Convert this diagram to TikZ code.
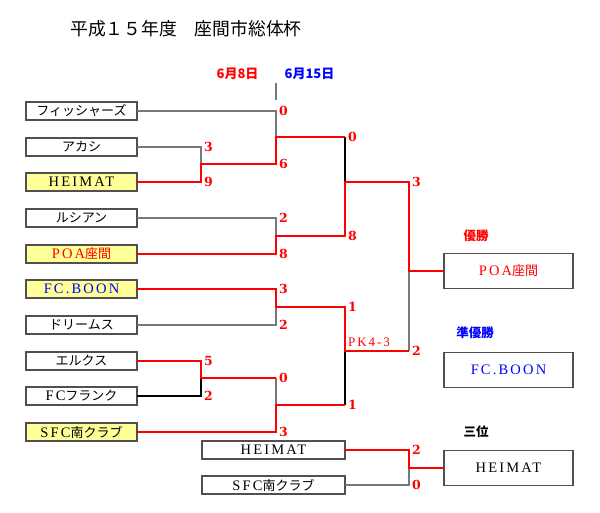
\documentclass[tikz,border=0pt]{standalone}
\usepackage{fontspec}
\setmainfont{Liberation Serif}
\newfontfamily\jp{Noto Sans CJK JP}
\newfontfamily\lat[LetterSpace=15]{Liberation Serif}
\newfontfamily\scf{DejaVu Serif}
\definecolor{rd}{RGB}{255,0,0}
\definecolor{bl}{RGB}{0,0,255}
\definecolor{yl}{RGB}{255,255,153}
\definecolor{gr}{RGB}{120,120,120}
\definecolor{bd}{RGB}{80,80,80}
\newcommand\lt[1]{{\lat\fontsize{14.5}{15}\selectfont #1}}
\tikzset{
  team/.style={draw=bd,line width=1.4pt,fill=white,minimum width=111pt,minimum height=18pt,inner sep=0pt,outer sep=0pt,font=\fontsize{13}{14}\selectfont},
  teamw/.style={team,minimum width=143pt},
  final/.style={team,minimum width=129pt,minimum height=35pt},
  hl/.style={fill=yl},
  win/.style={draw=rd,line width=2pt},
  lose/.style={draw=gr,line width=1.4pt},
  loseb/.style={draw=black,line width=1.2pt},
  score/.style={anchor=west,inner sep=0pt,text=rd,font=\scf\bfseries\fontsize{12.5}{13}\selectfont},
  lbl/.style={inner sep=0pt,font=\jp\bfseries\fontsize{12.5}{14}\selectfont},
}
\begin{document}
\begin{tikzpicture}[x=1pt,y=-1pt]
\useasboundingbox[fill=white] (0,0) rectangle (600,513);
% title and dates
\node[anchor=west,inner sep=0pt] (title) at (70,29) {\jp\fontsize{17.8}{20}\selectfont 平成１５年度　座間市総体杯};
\node[lbl,text=rd,font=\jp\bfseries\fontsize{13}{14}\selectfont] (d1) at (237.5,74) {6月8日};
\node[lbl,text=bl,font=\jp\bfseries\fontsize{13}{14}\selectfont] (d2) at (309.5,74) {6月15日};
\coordinate (tk1) at (276,83);
\coordinate (tk2) at (276,100);
\draw[lose] (tk1) -- (tk2);
% teams
\node[team] (t1) at (81.5,111) {\jp フィッシャーズ};
\node[team] (t2) at (81.5,147) {\jp アカシ};
\node[team,hl] (t3) at (81.5,182) {\lt{HEIMAT}};
\node[team] (t4) at (81.5,218) {\jp ルシアン};
\node[team,hl,text=rd] (t5) at (81.5,254) {\lt{POA}{\jp 座間}};
\node[team,hl,text=bl] (t6) at (81.5,289) {\lt{FC.BOON}};
\node[team] (t7) at (81.5,325) {\jp ドリームス};
\node[team] (t8) at (81.5,361) {\jp エルクス};
\node[team] (t9) at (81.5,396) {\lt{FC}{\jp フランク}};
\node[team,hl] (t10) at (81.5,432) {\lt{SFC}{\jp 南クラブ}};
\node[teamw] (h1) at (273.5,450) {\lt{HEIMAT}};
\node[teamw] (h2) at (273.5,485) {\lt{SFC}{\jp 南クラブ}};
\node[final,text=rd] (champ) at (508.5,271) {\lt{POA}{\jp 座間}};
\node[final,text=bl] (second) at (508.5,370) {\lt{FC.BOON}};
\node[final] (third) at (508.5,468) {\lt{HEIMAT}};
\node[lbl,text=rd] (l1) at (476,236) {優勝};
\node[lbl,text=bl] (l2) at (475,333) {準優勝};
\node[lbl] (l3) at (476,432) {三位};
% junctions
\coordinate (mA) at (201,164);
\coordinate (mB) at (276,137);
\coordinate (mC) at (276,236);
\coordinate (mD) at (345,182);
\coordinate (mE) at (276,307);
\coordinate (mF) at (201,378);
\coordinate (mG) at (276,405);
\coordinate (mH) at (345,351);
\coordinate (mI) at (409,271);
\coordinate (mJ) at (409,468);
% losing lines
\draw[lose] (t2.east) -| (mA);
\draw[lose] (t1.east) -| (mB);
\draw[lose] (t4.east) -| (mC);
\draw[loseb] (mB -| mD) -- (mD);
\draw[lose] (t7.east) -| (mE);
\draw[loseb] (t9.east) -| (mF);
\draw[lose] (mF -| mG) -- (mG);
\draw[loseb] (mG -| mH) -- (mH);
\draw[lose] (mH -| mI) -- (mI);
\draw[lose] (h2.east) -| (mJ);
% winning lines
\draw[win] (t3.east) -| (mA) -| (mB) -- (mB -| mD);
\draw[win] (t5.east) -| (mC) -| (mD) -| (mI) -- (champ.west);
\draw[win] (t6.east) -| (mE) -| (mH) -- (mH -| mI);
\draw[win] (t8.east) -| (mF) -- (mF -| mG);
\draw[win] (t10.east) -| (mG) -- (mG -| mH);
\draw[win] (h1.east) -| (mJ) -- (third.west);
% scores
\node[score] (s1) at (204,147) {3};
\node[score] (s2) at (204,182) {9};
\node[score] (s3) at (204,361) {5};
\node[score] (s4) at (204,396) {2};
\node[score] (s5) at (279,111) {0};
\node[score] (s6) at (279,164) {6};
\node[score] (s7) at (279,218) {2};
\node[score] (s8) at (279,254) {8};
\node[score] (s9) at (279,289) {3};
\node[score] (s10) at (279,325) {2};
\node[score] (s11) at (279,378) {0};
\node[score] (s12) at (279,432) {3};
\node[score] (s13) at (348,137) {0};
\node[score] (s14) at (348,236) {8};
\node[score] (s15) at (348,307) {1};
\node[score] (s16) at (348,405) {1};
\node[score] (s17) at (412,182) {3};
\node[score] (s18) at (412,351) {2};
\node[score] (s19) at (412,450) {2};
\node[score] (s20) at (412,485) {0};
\node[anchor=west,inner sep=0pt,text=rd,font=\lat\fontsize{13}{14}\selectfont] (pk) at (348,342) {PK4-3};
\end{tikzpicture}
\end{document}
